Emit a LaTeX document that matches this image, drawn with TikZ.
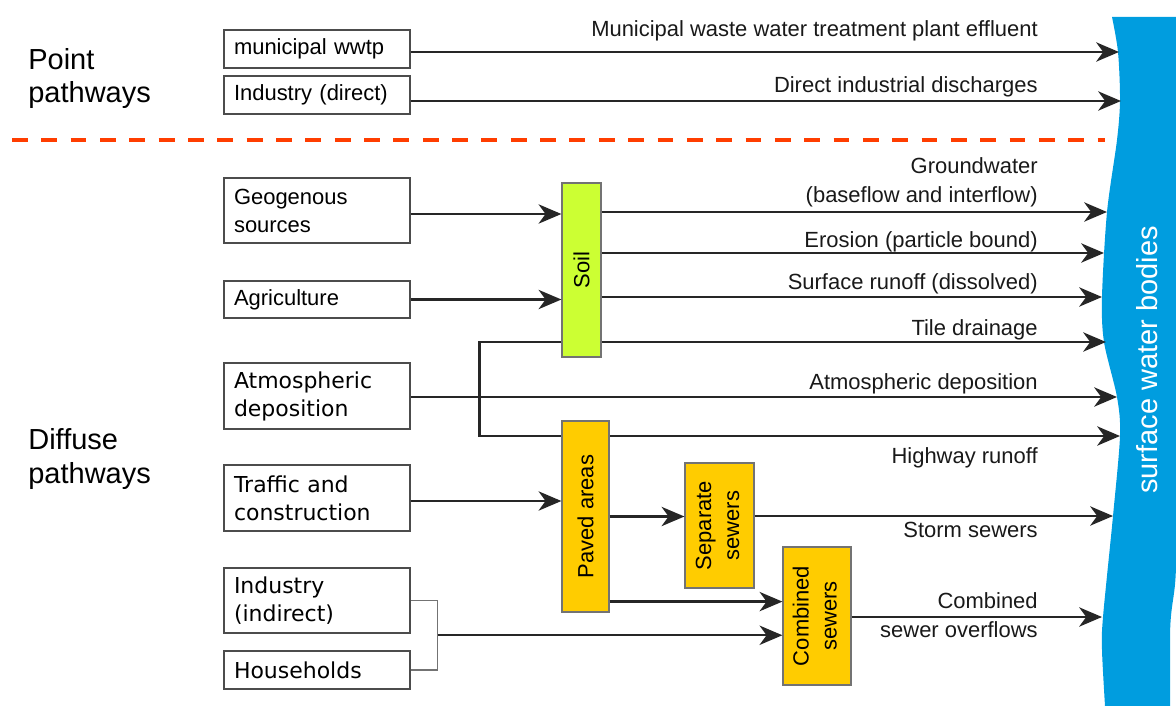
\documentclass[tikz,border=0pt]{standalone}
\usepackage{fontspec}
\setmainfont{Liberation Sans}
\newfontfamily\widefont{DejaVu Sans}
\usetikzlibrary{positioning,arrows.meta,calc}
\definecolor{soilgreen}{RGB}{204,255,51}
\definecolor{pavedyellow}{RGB}{255,204,0}
\definecolor{waterblue}{RGB}{0,157,223}
\definecolor{splitred}{RGB}{255,61,0}

\begin{document}
\begin{tikzpicture}[x=0.02cm,y=-0.02cm,
    src/.style={draw=black!70,line width=0.7pt,text width=3.32cm,inner xsep=0.2cm,inner ysep=0pt,align=left,font=\fontsize{12.5}{16}\selectfont},
    widesrc/.style={src,font=\widefont\fontsize{12.5}{16}\selectfont},
    proc/.style={draw=black!55,line width=0.7pt,inner sep=0pt,font=\fontsize{12.5}{16}\selectfont},
    flow/.style={draw=black!85,line width=1.3pt,-{Stealth[length=13pt,width=11pt,inset=4pt]}},
    lbl/.style={anchor=base east,align=right,inner sep=0pt,text=black!90,font=\fontsize{12.5}{16}\selectfont},
    big/.style={anchor=base west,align=left,inner sep=0pt,font=\fontsize{16.5}{19.3}\selectfont}]
    \useasboundingbox (0,0) rectangle (1176,706);

    % water body
    \fill[waterblue] (1112,17) -- (1176,17) -- (1176,560) .. controls (1176,600) and (1170,600) .. (1170,640) -- (1170,706) -- (1105,706)
      -- plot[smooth] coordinates {(1105,706) (1102,650) (1103,617) (1113,516) (1120,436) (1117,397) (1104,342) (1102,297) (1107,212) (1117,140) (1120,100) (1118,52) (1112,17)} -- cycle;
    \node[rotate=90,text=white,inner sep=0pt,font=\fontsize{16.5}{20}\selectfont] (wlabel) at (1147,360) {surface water bodies};

    \coordinate (eff) at (1119,52);
    \coordinate (dis) at (1121,101);
    \coordinate (gw) at (1107,212);
    \coordinate (ero) at (1104,253);
    \coordinate (sro) at (1102,297);
    \coordinate (tile) at (1106,342);
    \coordinate (atm) at (1117,397);
    \coordinate (hwy) at (1120,436);
    \coordinate (storm) at (1113,516);
    \coordinate (cso) at (1102,617);

    \node[big] (point) at (28,103) {Point\\pathways};
    \node[big] (diffuse) at (28,483) {Diffuse\\pathways};
    \draw[splitred,line width=2.3pt,dash pattern=on 9pt off 7.7pt] (12,140) -- (1105,140);

    % sources
    \node[src,minimum height=0.76cm] (wwtp) at (317,49) {municipal wwtp};
    \node[src,minimum height=0.76cm] (inddir) at (317,95) {Industry (direct)};
    \node[src,minimum height=1.3cm] (geo) at (317,210.5) {Geogenous\\sources};
    \node[src,minimum height=0.74cm] (agri) at (317,299.5) {Agriculture};
    \node[widesrc,minimum height=1.32cm] (atmo) at (317,396) {Atmospheric\\deposition};
    \node[widesrc,minimum height=1.32cm] (traffic) at (317,498) {Traffic and\\construction};
    \node[widesrc,minimum height=1.3cm] (indind) at (317,600.5) {Industry\\(indirect)};
    \node[widesrc,minimum height=0.76cm] (house) at (317,670) {Households};

    % soil and its pathways
    \node[proc,fill=soilgreen,minimum width=0.78cm,minimum height=3.48cm] (soil) at (581.5,270) {\rotatebox{90}{Soil}};
    \draw[flow] (geo.east |- 0,214) -- (soil.west |- 0,214);
    \draw[flow] (agri.east) -- (agri.east -| soil.west);
    \draw[flow] (soil.east |- gw) -- (gw);
    \draw[flow] (soil.east |- ero) -- (ero);
    \draw[flow] (soil.east |- sro) -- (sro);
    \draw[flow] (soil.east |- tile) -- (tile);
    \draw[flow] (soil.west |- tile) -- ++(-82,0) |- (hwy);
    \draw[flow] (atmo.east |- atm) -- (atm);

    % urban pathways
    \node[proc,fill=pavedyellow,minimum width=0.94cm,minimum height=3.82cm] (paved) at (585.5,516.5) {\rotatebox{90}{Paved areas}};
    \node[proc,fill=pavedyellow,minimum width=1.38cm,minimum height=2.5cm] (sep) at (719.5,525.5) {\rotatebox{90}{\begin{tabular}{@{}c@{}}Separate\\sewers\end{tabular}}};
    \node[proc,fill=pavedyellow,minimum width=1.36cm,minimum height=2.76cm] (comb) at (817,616) {\rotatebox{90}{\begin{tabular}{@{}c@{}}Combined\\sewers\end{tabular}}};
    \draw[flow] (traffic.east |- 0,501) -- (paved.west |- 0,501);
    \draw[flow] (paved.east) -- (paved.east -| sep.west);
    \draw[flow] (sep.east |- storm) -- (storm);
    \draw[flow] ($(paved.south east)+(0,-11)$) coordinate (pc) -- (pc -| comb.west);
    \coordinate (jn) at ($(indind.east)!.5!(house.east)+(27,0)$);
    \draw[black!55,line width=0.8pt] (indind.east) -| (jn) |- (house.east);
    \draw[flow] (jn) -- (jn -| comb.west);
    \draw[flow] (comb.east |- cso) -- (cso);
    \draw[flow] (wwtp.east |- eff) -- (eff);
    \draw[flow] (inddir.east |- dis) -- (dis);

    % pathway labels
    \node[lbl] (effl) at (1038,37) {Municipal waste water treatment plant effluent};
    \node[lbl] (disl) at (1038,92) {Direct industrial discharges};
    \node[lbl] (gwl) at (1038,202) {Groundwater\\(baseflow and interflow)};
    \node[lbl] (erol) at (1038,247) {Erosion (particle bound)};
    \node[lbl] (srol) at (1038,289) {Surface runoff (dissolved)};
    \node[lbl] (tilel) at (1038,335) {Tile drainage};
    \node[lbl] (atml) at (1038,389) {Atmospheric deposition};
    \node[lbl] (hwyl) at (1038,463) {Highway runoff};
    \node[lbl] (storml) at (1038,537) {Storm sewers};
    \node[lbl] (csol) at (1038,637) {Combined\\sewer overflows};
  \end{tikzpicture}
\end{document}
